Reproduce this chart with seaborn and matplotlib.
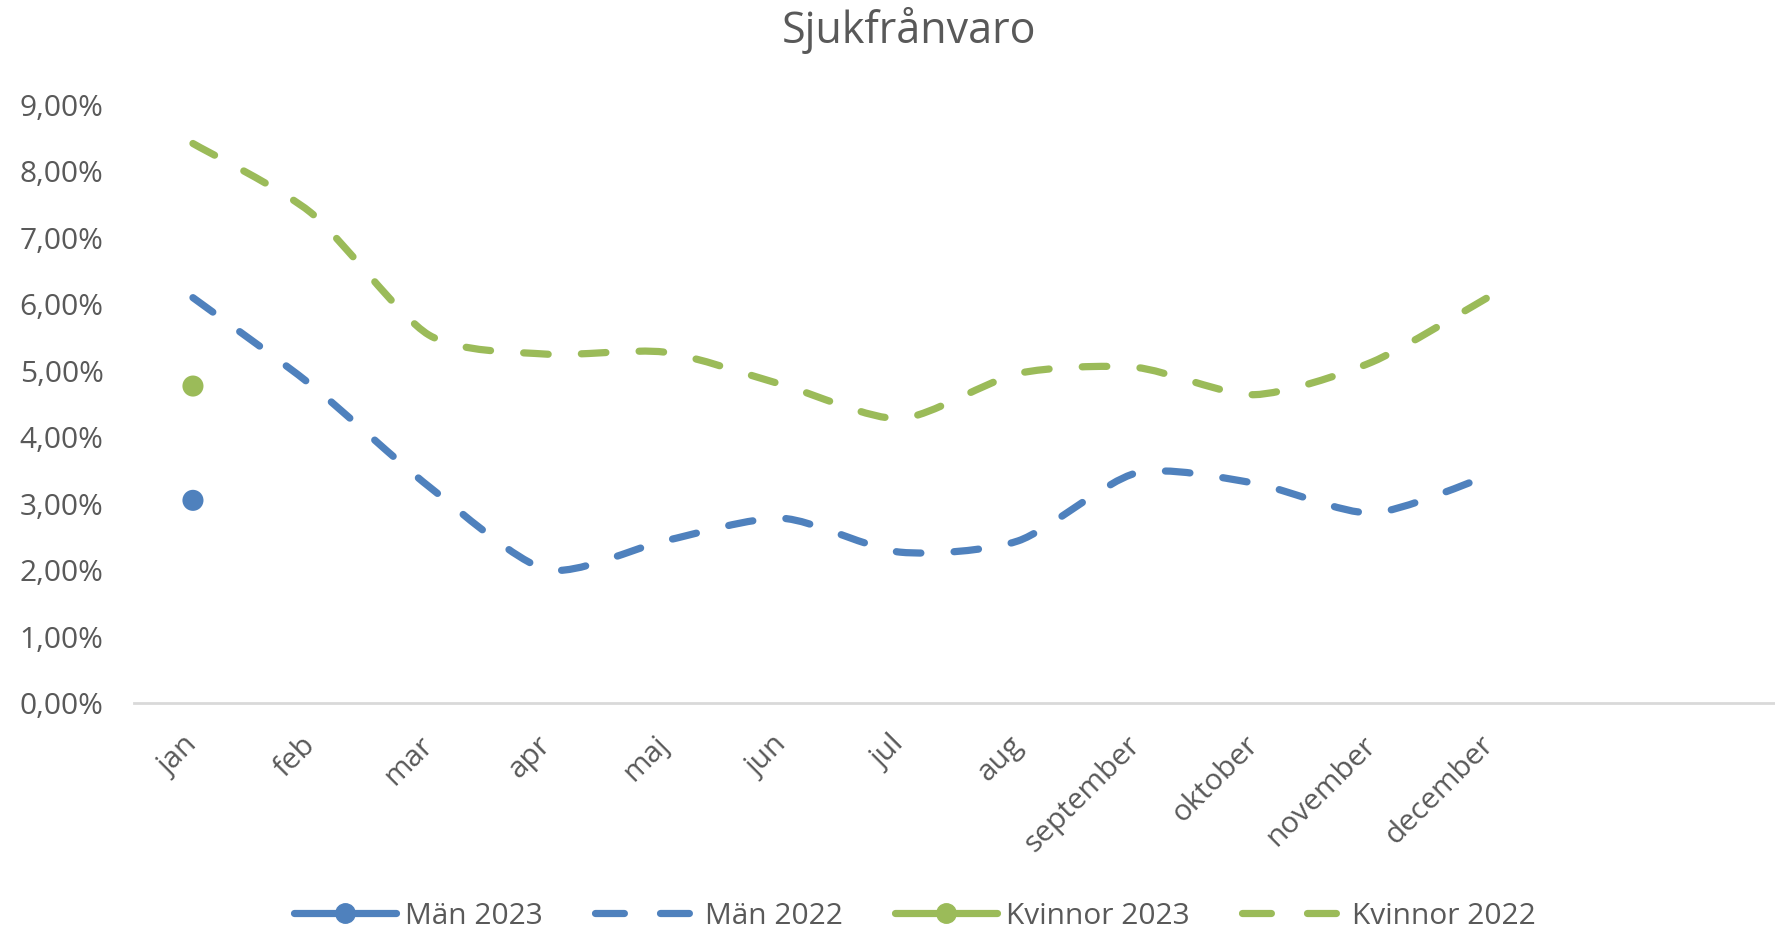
"""Sjukfrånvaro per månad, män och kvinnor 2022 vs 2023."""

import matplotlib.pyplot as plt
import numpy as np
import pandas as pd
import seaborn as sns
from matplotlib.lines import Line2D
from matplotlib.patches import PathPatch
from matplotlib.path import Path
from matplotlib.ticker import FuncFormatter

months = ["jan", "feb", "mar", "apr", "maj", "jun", "jul", "aug",
          "september", "oktober", "november", "december"]
man_2022 = [6.10, 4.79, 3.26, 2.01, 2.44, 2.78, 2.27, 2.44, 3.46, 3.31, 2.86, 3.43]
kvinnor_2022 = [8.42, 7.38, 5.54, 5.25, 5.28, 4.79, 4.28, 4.96, 5.05, 4.64, 5.13, 6.12]
man_2023 = [3.05]
kvinnor_2023 = [4.77]

BLUE = "#4F81BD"
GREEN = "#9BBB59"
TEXT = "#595959"
AXIS = "#D9D9D9"

sns.set_theme(style="white")
plt.rcParams["font.family"] = ["Open Sans", "DejaVu Sans"]


def smooth_path(xs, ys, k=8):
    # excel-style smoothed line: bezier segments through every point
    pts = np.column_stack([xs, ys])
    n = len(pts)
    verts, codes = [pts[0]], [Path.MOVETO]
    for i in range(n - 1):
        p0, p1 = pts[max(i - 1, 0)], pts[i]
        p2, p3 = pts[i + 1], pts[min(i + 2, n - 1)]
        verts += [p1 + (p2 - p0) / k, p2 - (p3 - p1) / k, p2]
        codes += [Path.CURVE4] * 3
    return Path(verts, codes)


df22 = pd.DataFrame({"x": range(len(months)),
                     "man": np.array(man_2022) / 100,
                     "kvinnor": np.array(kvinnor_2022) / 100})
df23 = pd.DataFrame({"x": range(len(man_2023)),
                     "man": np.array(man_2023) / 100,
                     "kvinnor": np.array(kvinnor_2023) / 100})

fig = plt.figure(figsize=(17.75, 9.33), dpi=100)
ax = fig.add_axes([0.0755, 0.2465, 0.9245, 0.641])

dash = (0, (3.4, 4.6))
for col, color in [("kvinnor", GREEN), ("man", BLUE)]:
    patch = PathPatch(smooth_path(df22["x"], df22[col]), facecolor="none",
                      edgecolor=color, linewidth=5.2, linestyle=dash,
                      capstyle="round", joinstyle="round")
    ax.add_patch(patch)

sns.scatterplot(data=df23, x="x", y="man", ax=ax, color=BLUE, s=230,
                edgecolor="none", zorder=3)
sns.scatterplot(data=df23, x="x", y="kvinnor", ax=ax, color=GREEN, s=230,
                edgecolor="none", zorder=3)

ax.set_xlim(-0.5, 13.42)
ax.set_ylim(0, 0.09)
ax.set_yticks(np.arange(0, 0.0901, 0.01))
ax.yaxis.set_major_formatter(FuncFormatter(lambda v, _: f"{v * 100:.2f}%".replace(".", ",")))
ax.set_xticks(range(len(months)))
ax.set_xticklabels(months, rotation=45, ha="right", va="center",
                   rotation_mode="anchor")
ax.set_xlabel("")
ax.set_ylabel("")
ax.tick_params(axis="both", length=0, labelsize=21.5, labelcolor=TEXT)
ax.tick_params(axis="y", pad=22)
ax.tick_params(axis="x", pad=27)
for side in ["top", "right", "left"]:
    ax.spines[side].set_visible(False)
ax.spines["bottom"].set_color(AXIS)
ax.spines["bottom"].set_linewidth(2)
ax.grid(False)

fig.text(0.512, 0.967, "Sjukfrånvaro", ha="center", va="center",
         fontsize=31, color=TEXT)

leg_dash = (0, (4.0, 5.0))
handles = [
    Line2D([], [], color=BLUE, lw=5.2, marker="o", markersize=14, solid_capstyle="round"),
    Line2D([], [], color=BLUE, lw=5.2, linestyle=leg_dash, dash_capstyle="round"),
    Line2D([], [], color=GREEN, lw=5.2, marker="o", markersize=14, solid_capstyle="round"),
    Line2D([], [], color=GREEN, lw=5.2, linestyle=leg_dash, dash_capstyle="round"),
]
labels = ["Män 2023", "Män 2022", "Kvinnor 2023", "Kvinnor 2022"]
leg = fig.legend(handles, labels, loc="center", bbox_to_anchor=(0.5155, 0.018),
                 ncol=4, frameon=False, fontsize=21.5, handlelength=3.4,
                 handletextpad=0.3, columnspacing=1.75)
for t in leg.get_texts():
    t.set_color(TEXT)

fig.savefig("out.png", dpi=100)
